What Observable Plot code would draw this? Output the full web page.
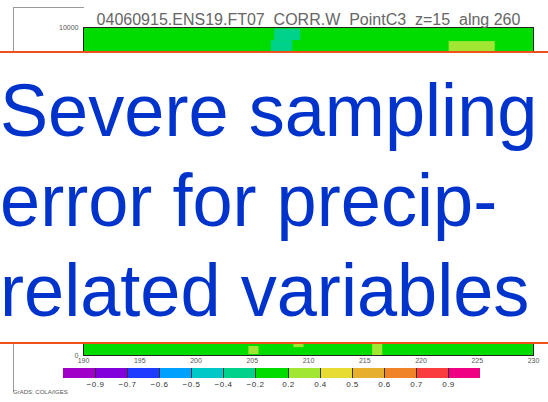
<!DOCTYPE html>
<html>
<head>
<meta charset="utf-8">
<script src="https://cdn.jsdelivr.net/npm/d3@7"></script>
<script src="https://cdn.jsdelivr.net/npm/@observablehq/plot@0.6"></script>
<style>
  body { margin: 0; background: #fff; }
  #wrap { position: relative; width: 548px; height: 402px; overflow: hidden; font-family: "Liberation Sans", Arial, sans-serif; background: #fff; }
  #pageframe { position: absolute; left: 13px; top: 7px; width: 70px; height: 384px; border-left: 1px solid #9a9a9a; border-top: 1px solid #9a9a9a; }
  #chart { position: absolute; left: 0; top: 0; }
  #legend { position: absolute; left: 0; top: 368px; }
  #grads { position: absolute; left: 13px; top: 389px; font-size: 6px; color: #555; white-space: nowrap; }
  #box { position: absolute; left: 0; top: 51px; width: 548px; height: 289px; background: #fff; border-top: 2px solid #f0501e; border-bottom: 2px solid #f0501e; }
  #msg { position: absolute; left: 0px; top: 65px; font-size: 75px; line-height: 90px; color: #0033cc; white-space: nowrap; transform: scaleX(0.962); transform-origin: 0 0; }
</style>
</head>
<body>
<div id="wrap">
  <div id="pageframe"></div>
  <div id="chart"></div>
  <div id="legend"></div>
  <div id="grads">GrADS: COLA/IGES</div>
  <div id="box"></div>
  <div id="msg"></div>
</div>
<script>
// ---- data ----
const titleText = "04060915.ENS19.FT07  CORR.W  PointC3  z=15  alng 260";
const messageLines = ["Severe sampling", "error for precip-", "related variables"];

const thresholds = [-0.9, -0.7, -0.6, -0.5, -0.4, -0.2, 0.2, 0.4, 0.5, 0.6, 0.7, 0.9];
const shadeColors = [
  "rgb(160,0,200)", "rgb(130,0,220)", "rgb(30,60,255)", "rgb(0,160,255)",
  "rgb(0,200,200)", "rgb(0,210,140)", "rgb(0,220,0)", "rgb(160,230,50)",
  "rgb(230,220,50)", "rgb(230,175,45)", "rgb(240,130,40)", "rgb(250,60,60)",
  "rgb(240,0,130)"
];

const lonTicks = [190, 195, 200, 205, 210, 215, 220, 225, 230];
const heightTicks = [0, 10000];

// visible correlation cells (longitude range, height range, correlation)
const cellLon1 = [190, 207.0, 206.7, 222.5, 204.7, 208.7, 215.7];
const cellLon2 = [230, 209.3, 208.6, 226.6, 205.6, 209.6, 216.6];
const cellZ1   = [0, 9600, 8800, 8800, 30, 240, 0];
const cellZ2   = [10000, 9950, 9600, 9570, 274, 600, 600];
const cellCorr = [0.05, -0.3, -0.3, 0.3, 0.3, 0.3, 0.3];

const cells = cellCorr.map((c, i) => ({
  x1: cellLon1[i], x2: cellLon2[i], y1: cellZ1[i], y2: cellZ2[i], corr: c
}));

const fmt = d => (d < 0 ? "\u2212" : "") + Math.abs(d).toFixed(1);

// ---- chart ----
const chart = Plot.plot({
  width: 548,
  height: 402,
  marginLeft: 83,
  marginRight: 15,
  marginTop: 27,
  marginBottom: 47,
  style: { fontFamily: "'Liberation Sans', Arial, sans-serif", fontSize: "7px", background: "transparent", color: "#555" },
  x: { domain: [190, 230], ticks: lonTicks, tickSize: 0, tickPadding: 3, label: null, tickFormat: d => String(d) },
  y: { domain: [0, 10000], ticks: heightTicks, tickSize: 0, tickPadding: 5, label: null, tickFormat: d => String(d) },
  color: { type: "threshold", domain: thresholds, range: shadeColors, label: null },
  marks: [
    Plot.rect(cells, { x1: "x1", x2: "x2", y1: "y1", y2: "y2", fill: "corr" }),
    Plot.frame({ stroke: "#222" }),
    Plot.text([titleText], { frameAnchor: "top", dy: -14, fontSize: 16, fill: "#666", ariaLabel: "title" })
  ]
});
document.getElementById("chart").appendChild(chart);

d3.select(chart).selectAll('g[aria-label="title"] text')
  .attr("textLength", 445)
  .attr("lengthAdjust", "spacingAndGlyphs");

// ---- colour bar ----
const legend = chart.legend("color", {
  label: null,
  width: 548,
  height: 28,
  marginTop: 0,
  marginBottom: 18,
  marginLeft: 63,
  marginRight: 68,
  tickSize: 0,
  tickFormat: fmt,
  style: { fontSize: "8px", fontFamily: "'Liberation Sans', Arial, sans-serif", background: "transparent", color: "#333", letterSpacing: "0.5px" }
});
document.getElementById("legend").appendChild(legend);

// ---- overlay message ----
const msg = d3.select("#msg");
messageLines.forEach(t => msg.append("div").text(t));
</script>
</body>
</html>
